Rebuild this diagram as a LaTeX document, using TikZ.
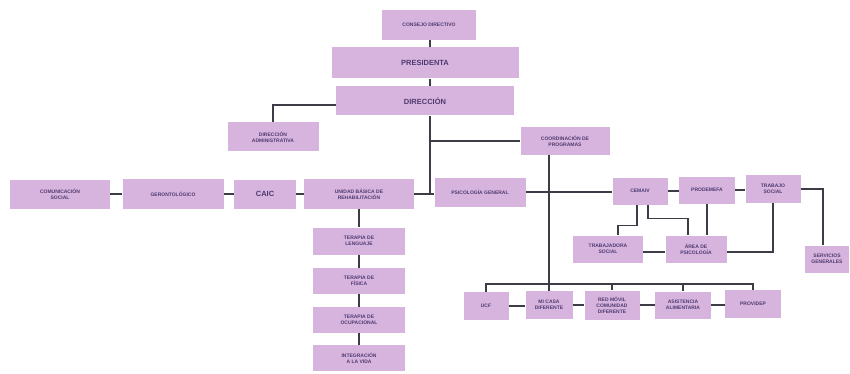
\documentclass[tikz,border=0pt]{standalone}
\usepackage{fontspec}
\setmainfont{Liberation Sans}
\definecolor{boxfill}{RGB}{215,180,222}
\definecolor{boxtext}{RGB}{78,58,112}
\definecolor{wire}{RGB}{60,60,70}

\begin{document}
\begin{tikzpicture}[
      x=1pt, y=-1pt,
      every node/.style={inner sep=1pt,align=center,font=\fontsize{5}{5.9}\selectfont\bfseries,text=boxtext},
      unit/.style 2 args={fill=boxfill,minimum width=#1pt,minimum height=#2pt},
      big/.style={font=\fontsize{7.5}{9}\selectfont\bfseries},
      wires/.style={draw=wire,line width=1.6pt}
    ]
  \useasboundingbox (0,0) rectangle (850,374);

  % top of the chart
  \node[unit={94}{30}] (consejo) at (429,25) {CONSEJO DIRECTIVO};
  \node[unit={187}{31},big] (presid) at (425,63) {PRESIDENTA};
  \node[unit={178}{29},big] (direc) at (425,101) {DIRECCIÓN};
  \node[unit={91}{29}] (diradm) at (273,137) {DIRECCIÓN\\ADMINISTRATIVA};
  \node[unit={89}{28}] (coord) at (565,141) {COORDINACIÓN DE\\PROGRAMAS};

  % middle row
  \node[unit={100}{29}] (comsoc) at (60,194) {COMUNICACIÓN\\SOCIAL};
  \node[unit={101}{30}] (geront) at (173,194) {GERONTOLÓGICO};
  \node[unit={62}{29},big] (caic) at (265,194) {CAIC};
  \node[unit={110}{30}] (ubr) at (359,194) {UNIDAD BÁSICA DE\\REHABILITACIÓN};
  \node[unit={91}{29}] (psicgen) at (480,192) {PSICOLOGÍA GENERAL};
  \node[unit={55}{27}] (cemaiv) at (640,191) {CEMAIV};
  \node[unit={56}{27}] (prodem) at (707,190) {PRODEMEFA};
  \node[unit={55}{28}] (trabsoc) at (773,189) {TRABAJO\\SOCIAL};
  \node[unit={70}{27}] (trabadora) at (608,249) {TRABAJADORA\\SOCIAL};
  \node[unit={61}{27}] (areapsic) at (696,249) {ÁREA DE\\PSICOLOGÍA};
  \node[unit={44}{27}] (servgen) at (827,259) {SERVICIOS\\GENERALES};

  % terapias
  \node[unit={92}{27}] (lenguaje) at (359,241) {TERAPIA DE\\LENGUAJE};
  \node[unit={92}{26}] (fisica) at (359,281) {TERAPIA DE\\FÍSICA};
  \node[unit={92}{26}] (ocupa) at (359,320) {TERAPIA DE\\OCUPACIONAL};
  \node[unit={92}{26}] (integra) at (359,358) {INTEGRACIÓN\\A LA VIDA};

  % programas
  \node[unit={45}{28}] (ucf) at (486,306) {UCF};
  \node[unit={47}{28}] (micasa) at (549,305) {MI CASA\\DIFERENTE};
  \node[unit={55}{29}] (redmovil) at (612,305) {RED MÓVIL\\COMUNIDAD\\DIFERENTE};
  \node[unit={56}{27}] (asist) at (683,305) {ASISTENCIA\\ALIMENTARIA};
  \node[unit={56}{28}] (providep) at (753,304) {PROVIDEP};

  \coordinate (trunk) at (430,194);
  \coordinate (branch) at (430,141);
  \coordinate (bus) at (549,284);

  \begin{scope}[wires]
    \draw (consejo.south -| trunk) -- (presid.north -| trunk);
    \draw (presid.south -| trunk) -- (direc.north -| trunk);
    \draw ([yshift=-4pt]direc.west) -| (diradm.north);
    \draw (direc.south -| trunk) -- (trunk);
    \draw (branch) -- (coord.west);
    \draw (ubr.east) -- (trunk) -- (trunk -| psicgen.west);
    \draw (comsoc) -- (geront);
    \draw (geront) -- (caic);
    \draw (caic) -- (ubr);
    \draw (psicgen.east) -- (psicgen.east -| cemaiv.west);
    \draw (cemaiv.east) -- (cemaiv.east -| prodem.west);
    \draw (prodem.east) -- (prodem.east -| trabsoc.west);
    \draw (trabsoc.east) -| ([xshift=-4pt]servgen.north);
    \draw ([xshift=-3pt]cemaiv.south) |- ([xshift=10pt,yshift=10pt]trabadora.north) -- ([xshift=10pt]trabadora.north);
    \draw ([xshift=8pt]cemaiv.south) |- ([xshift=-8pt,yshift=17pt]areapsic.north) -- ([xshift=-8pt]areapsic.north);
    \draw (prodem.south) -- (prodem.south |- areapsic.north);
    \draw (trabsoc.south) |- ([yshift=-3pt]areapsic.east);
    \draw ([yshift=-3pt]trabadora.east) -- ([yshift=-3pt]areapsic.west);
    \draw (ubr.south) -- (lenguaje.north);
    \draw (lenguaje) -- (fisica);
    \draw (fisica) -- (ocupa);
    \draw (ocupa) -- (integra);
    \draw (coord.south -| micasa.north) -- (micasa.north);
    \draw (ucf.north) |- (bus) -| (providep.north);
    \draw (redmovil.north) -- (redmovil.north |- bus);
    \draw (asist.north) -- (asist.north |- bus);
    \draw (ucf.east) -- (ucf.east -| micasa.west);
    \draw (micasa) -- (redmovil);
    \draw (redmovil) -- (asist);
    \draw (asist.east) -- (asist.east -| providep.west);
  \end{scope}
\end{tikzpicture}
\end{document}
